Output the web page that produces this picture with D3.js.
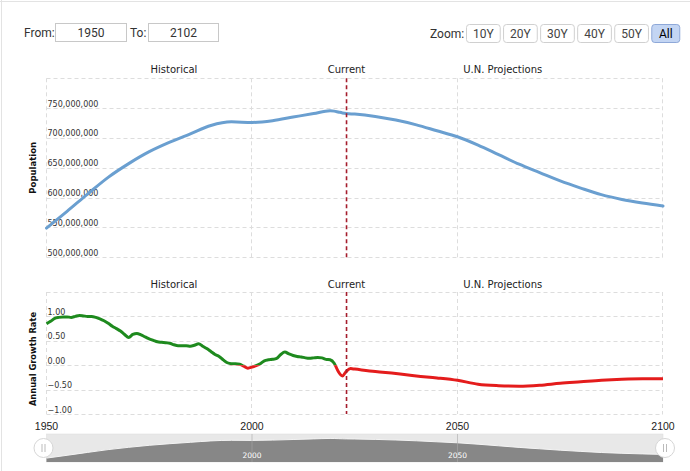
<!DOCTYPE html>
<html><head><meta charset="utf-8">
<script src="https://cdn.jsdelivr.net/npm/d3@7"></script>
<style>
html,body{margin:0;padding:0;background:#fff;}
svg{display:block;}
</style></head>
<body>
<svg id="chart" width="690" height="471"></svg>
<script>
// ---- data ----
const popYears = [1950,1955,1960,1965,1970,1975,1980,1985,1990,1995,2000,2005,2010,2015,2019,2020,2021,2022,2023,2025,2030,2035,2040,2045,2050,2055,2060,2065,2070,2075,2080,2085,2090,2095,2100];
const popValues = [549e6,577e6,606e6,634e6,657e6,677e6,693e6,707e6,721e6,727e6,726e6,729e6,735e6,741e6,745.5e6,745e6,743.5e6,742e6,741e6,740e6,736e6,730e6,722e6,712e6,702e6,688e6,672e6,656e6,642e6,628e6,616e6,605e6,597e6,591e6,586e6];

const rateYears = [1950,1951,1952,1953,1954,1955,1956,1957,1958,1959,1960,1961,1962,1963,1964,1965,1966,1967,1968,1969,1970,1971,1972,1973,1974,1975,1976,1977,1978,1979,1980,1981,1982,1983,1984,1985,1986,1987,1988,1989,1990,1991,1992,1993,1994,1995,1996,1997,1998,1999,2000,2001,2002,2003,2004,2005,2006,2007,2008,2009,2010,2011,2012,2013,2014,2015,2016,2017,2018,2019,2020,2021,2022,2023,2024,2025,2030,2035,2040,2045,2050,2055,2060,2065,2070,2075,2080,2085,2090,2095,2100];
const rateValues = [0.85,0.90,0.96,0.98,0.99,0.99,0.98,1.00,1.02,1.01,1.00,1.00,0.98,0.95,0.91,0.86,0.80,0.75,0.70,0.63,0.57,0.63,0.65,0.62,0.58,0.54,0.51,0.48,0.47,0.46,0.45,0.42,0.40,0.40,0.40,0.39,0.41,0.44,0.39,0.34,0.28,0.22,0.18,0.11,0.05,0.03,0.03,0.02,-0.02,-0.06,-0.04,-0.01,0.03,0.09,0.11,0.12,0.14,0.22,0.27,0.23,0.20,0.18,0.17,0.15,0.14,0.15,0.16,0.15,0.12,0.11,0.04,-0.13,-0.22,-0.12,-0.07,-0.08,-0.13,-0.17,-0.22,-0.26,-0.31,-0.39,-0.42,-0.43,-0.41,-0.37,-0.34,-0.31,-0.29,-0.28,-0.28];

const popTicks = [500e6,550e6,600e6,650e6,700e6,750e6];
const popGrid = [500e6,550e6,600e6,650e6,700e6,750e6,800e6];
const rateTicks = [-1,-0.5,0,0.5,1];
const rateGrid = [-1,-0.5,0,0.5,1,1.5];
const xTicks = [1950,2000,2050,2100];
const navLabels = [2000,2050];
const currentYear = 2023;
const sectionTitles = ["Historical","Current","U.N. Projections"];
const sectionYears = [1981,2023,2061];
const zoomButtons = ["10Y","20Y","30Y","40Y","50Y","All"];
const fromYear = "1950", toYear = "2102";

// ---- layout ----
const svg = d3.select("#chart");
const x = d3.scaleLinear().domain([1950,2100]).range([46.5,663]);
const yTop = d3.scaleLinear().domain([500e6,800e6]).range([257.3,78.3]);
const yBot = d3.scaleLinear().domain([-1,1.5]).range([414,292]);
const yNav = d3.scaleLinear().domain([500e6,760e6]).range([463,437]);
const fmt = d3.format(",");
const fmt2 = d3.format(".2f");

// frame lines
svg.append("line").attr("x1",0).attr("x2",690).attr("y1",1.5).attr("y2",1.5).attr("stroke","#e3e3e3");
svg.append("line").attr("x1",1.5).attr("x2",1.5).attr("y1",0).attr("y2",471).attr("stroke","#e3e3e3");

// header
const hf = "Roboto, 'Liberation Sans', Arial, sans-serif";
svg.append("text").attr("x",24).attr("y",37).attr("font-family",hf).attr("font-size",12).attr("fill","#333").text("From:");
svg.append("rect").attr("x",55.5).attr("y",23.5).attr("width",71).attr("height",18).attr("fill","#fff").attr("stroke","#c8c8c8");
svg.append("text").attr("x",91).attr("y",37).attr("text-anchor","middle").attr("font-family",hf).attr("font-size",12).attr("fill","#333").text(fromYear);
svg.append("text").attr("x",130).attr("y",37).attr("font-family",hf).attr("font-size",12).attr("fill","#333").text("To:");
svg.append("rect").attr("x",148.5).attr("y",23.5).attr("width",70).attr("height",18).attr("fill","#fff").attr("stroke","#c8c8c8");
svg.append("text").attr("x",183.5).attr("y",37).attr("text-anchor","middle").attr("font-family",hf).attr("font-size",12).attr("fill","#333").text(toYear);
svg.append("text").attr("x",430).attr("y",38).attr("font-family",hf).attr("font-size",12).attr("fill","#333").text("Zoom:");
const bx = d3.scaleBand().domain(zoomButtons).range([466,685]).paddingInner(0.09);
zoomButtons.forEach(b => {
  const sel = b === "All";
  const w = sel ? 28 : bx.bandwidth();
  svg.append("rect").attr("x",bx(b)+0.5).attr("y",24.5).attr("width",w).attr("height",18).attr("rx",3)
    .attr("fill", sel ? "#c3d5f3" : "#fff").attr("stroke", sel ? "#8ea8d8" : "#d0d0d0");
  svg.append("text").attr("x",bx(b)+w/2+0.5).attr("y",38).attr("text-anchor","middle").attr("font-family",hf)
    .attr("font-size",12).attr("fill", sel ? "#000" : "#444").text(b);
});

const gridColor = "#dddddd";
const df = "'DejaVu Sans', Verdana, sans-serif";

// horizontal grids
svg.append("g").selectAll("line").data(popGrid).join("line")
  .attr("x1",x(1950)).attr("x2",x(2100)).attr("y1",d=>Math.round(yTop(d))+0.5).attr("y2",d=>Math.round(yTop(d))+0.5)
  .attr("stroke",gridColor).attr("stroke-dasharray","4,3");
svg.append("g").selectAll("line").data(rateGrid).join("line")
  .attr("x1",x(1950)).attr("x2",x(2100)).attr("y1",d=>Math.round(yBot(d))+0.5).attr("y2",d=>Math.round(yBot(d))+0.5)
  .attr("stroke",gridColor).attr("stroke-dasharray","4,3");
// vertical grids
[[yTop(800e6),yTop(500e6)],[yBot(1.5),yBot(-1)]].forEach(([a,b]) => {
  svg.append("g").selectAll("line").data(xTicks).join("line")
    .attr("x1",d=>Math.round(x(d))-0.5).attr("x2",d=>Math.round(x(d))-0.5).attr("y1",a).attr("y2",b)
    .attr("stroke",gridColor).attr("stroke-dasharray","4,3");
});

// y tick labels
svg.append("g").selectAll("text").data(popTicks).join("text")
  .attr("x",47.5).attr("y",d=>yTop(d)-1.5).attr("font-family",df).attr("font-size",8).attr("fill","#333")
  .text(d=>fmt(d));
svg.append("g").selectAll("text").data(rateTicks).join("text")
  .attr("x",47.5).attr("y",d=>yBot(d)-1.5).attr("font-family",df).attr("font-size",8).attr("fill","#333")
  .text(d=>fmt2(d));

// axis titles
svg.append("text").attr("transform",`translate(36,${(yTop(800e6)+yTop(500e6))/2}) rotate(-90)`)
  .attr("text-anchor","middle").attr("font-family",df).attr("font-weight","bold").attr("font-size",8.5).attr("fill","#111").text("Population");
svg.append("text").attr("transform",`translate(36,${(yBot(1.5)+yBot(-1))/2 + 6}) rotate(-90)`)
  .attr("text-anchor","middle").attr("font-family",df).attr("font-weight","bold").attr("font-size",8.3).attr("fill","#111").text("Annual Growth Rate");

// section titles
[73,288].forEach(ty => {
  sectionTitles.forEach((t,i) => {
    svg.append("text").attr("x",x(sectionYears[i])).attr("y",ty).attr("text-anchor","middle")
      .attr("font-family",df).attr("font-size",10).attr("fill","#222").text(t);
  });
});

// population line
const popData = popYears.map((yr,i)=>({yr, v:popValues[i]}));
svg.append("path").datum(popData)
  .attr("d", d3.line().x(d=>x(d.yr)).y(d=>yTop(d.v)).curve(d3.curveMonotoneX))
  .attr("fill","none").attr("stroke","#6a9fd0").attr("stroke-width",3).attr("stroke-linejoin","round").attr("stroke-linecap","round");

// growth rate line with green/red split
const rateData = rateYears.map((yr,i)=>({yr, v:rateValues[i]}));
const defs = svg.append("defs");
defs.append("clipPath").attr("id","above").append("rect").attr("x",0).attr("y",0).attr("width",690).attr("height",yBot(0));
defs.append("clipPath").attr("id","below").append("rect").attr("x",0).attr("y",yBot(0)).attr("width",690).attr("height",471-yBot(0));
const rl = d3.line().x(d=>x(d.yr)).y(d=>yBot(d.v)).curve(d3.curveMonotoneX);
svg.append("path").datum(rateData).attr("d",rl).attr("clip-path","url(#above)")
  .attr("fill","none").attr("stroke","#1e8a1e").attr("stroke-width",3).attr("stroke-linejoin","round");
svg.append("path").datum(rateData).attr("d",rl).attr("clip-path","url(#below)")
  .attr("fill","none").attr("stroke","#e41c1c").attr("stroke-width",3).attr("stroke-linejoin","round");

// current lines
[[yTop(800e6),yTop(500e6)],[yBot(1.5),yBot(-1)]].forEach(([a,b]) => {
  svg.append("line").attr("x1",x(currentYear)).attr("x2",x(currentYear)).attr("y1",a).attr("y2",b)
    .attr("stroke","#a51d2d").attr("stroke-width",1.6).attr("stroke-dasharray","4,3");
});

// x axis labels
svg.append("g").selectAll("text").data(xTicks).join("text")
  .attr("x",d=>x(d)).attr("y",429.5).attr("text-anchor","middle")
  .attr("font-family","'Liberation Sans', Arial, sans-serif").attr("font-size",10.5).attr("fill","#222").text(d=>d);

// navigator
svg.append("rect").attr("x",x(1950)).attr("y",434).attr("width",x(2100)-x(1950)).attr("height",28).attr("fill","#e8e8e8").attr("stroke","#dcdcdc").attr("stroke-width",0.5);
svg.append("path").datum(popData)
  .attr("d", d3.area().x(d=>x(d.yr)).y0(462).y1(d=>yNav(d.v)).curve(d3.curveMonotoneX))
  .attr("fill","#878787");
svg.append("path").datum(popData)
  .attr("d", d3.line().x(d=>x(d.yr)).y(d=>yNav(d.v)).curve(d3.curveMonotoneX))
  .attr("fill","none").attr("stroke","#f4f4f4").attr("stroke-width",1);
svg.append("g").selectAll("line").data(navLabels).join("line")
  .attr("x1",d=>x(d)).attr("x2",d=>x(d)).attr("y1",434).attr("y2",462).attr("stroke","#aaa").attr("stroke-width",0.6);
svg.append("g").selectAll("text").data(navLabels).join("text")
  .attr("x",d=>x(d)).attr("y",458).attr("text-anchor","middle").attr("font-family",df).attr("font-size",7.5).attr("fill","#fff").text(d=>d);
// handles
[1950,2100].forEach(yr => {
  const cx = x(yr) + (yr===1950 ? -3 : 2);
  svg.append("circle").attr("cx",cx).attr("cy",448).attr("r",9.5).attr("fill","#fff").attr("stroke","#d6d6d6");
  [-1.5,1.5].forEach(o => svg.append("line").attr("x1",cx+o).attr("x2",cx+o).attr("y1",444).attr("y2",452).attr("stroke","#aaa").attr("stroke-width",0.8));
});
</script>
</body></html>
